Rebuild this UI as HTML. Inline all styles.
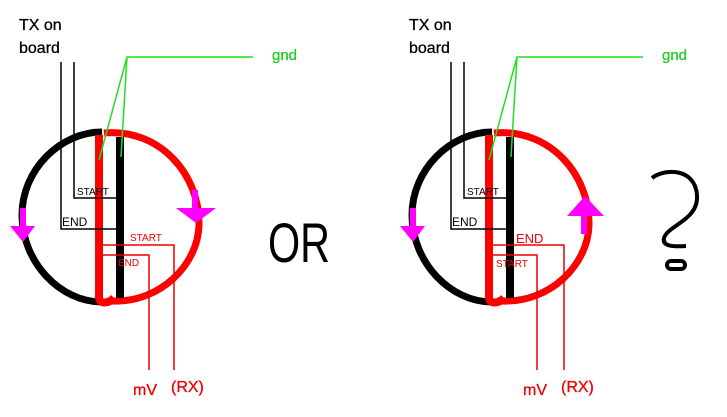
<!DOCTYPE html>
<html><head><meta charset="utf-8"><style>
html,body{margin:0;padding:0;background:#fff;width:727px;height:417px;overflow:hidden}
svg{display:block}
text{font-family:"Liberation Sans",sans-serif}
</style></head><body>
<svg width="727" height="417" viewBox="0 0 727 417" xmlns="http://www.w3.org/2000/svg">
<g id="L">
  <path d="M102,132 C60,132 22,170 22,215 C22,262 60,302 102,302" fill="none" stroke="#000" stroke-width="7"/>
  <path d="M104,133 C160,128 200,175 199,225 C198,265 160,303 112,301" fill="none" stroke="#f00" stroke-width="7"/>
  <line x1="120" y1="137" x2="120" y2="298" stroke="#000" stroke-width="8"/>
  <path d="M99,135 L99,298 C100,304 108,304 114,298" fill="none" stroke="#f00" stroke-width="8"/>
  <path d="M61,62 V229 H118" fill="none" stroke="#000" stroke-width="1.5"/>
  <path d="M74,62 V198 H118" fill="none" stroke="#000" stroke-width="1.5"/>
  <text x="77" y="195" font-size="10" fill="#000">START</text>
  <text x="62" y="226" font-size="12" fill="#000">END</text>
  <path d="M253,57 H127 L99,160 M127,57 L121,157" fill="none" stroke="#2d2" stroke-width="1.5"/>
  <text x="19" y="30" font-size="16" fill="#000" stroke="#000" stroke-width="0.3">TX on</text>
  <text x="19" y="53" font-size="16" fill="#000" stroke="#000" stroke-width="0.3">board</text>
  <text x="272" y="60" font-size="15" fill="#2c2" stroke="#2c2" stroke-width="0.3">gnd</text>
  <text x="133" y="395" font-size="16" fill="#e00" stroke="#e00" stroke-width="0.3">mV</text>
  <text x="171" y="392" font-size="16" fill="#e00" stroke="#e00" stroke-width="0.3">(RX)</text>
  <rect x="20" y="208" width="6" height="18" fill="#f0f"/>
  <polygon points="10,226 35,226 23,242" fill="#f0f"/>
</g>
<path d="M103,245 H174 V370" fill="none" stroke="#e00" stroke-width="1.5"/>
<path d="M103,255 H149 V370" fill="none" stroke="#e00" stroke-width="1.5"/>
<text x="130" y="241" font-size="10" fill="#e00">START</text>
<text x="118" y="266" font-size="10" fill="#e00">END</text>
<rect x="192" y="190" width="6" height="20" fill="#f0f"/>
<polygon points="176,208 216,208 196,223" fill="#f0f"/>
<text x="268" y="262" font-size="56" fill="#000" textLength="62" lengthAdjust="spacingAndGlyphs">OR</text>
<use href="#L" transform="translate(390,0)"/>
<path d="M493,245 H564 V370" fill="none" stroke="#e00" stroke-width="1.5"/>
<path d="M493,255 H537 V370" fill="none" stroke="#e00" stroke-width="1.5"/>
<text x="516" y="243" font-size="13" fill="#e00">END</text>
<text x="496" y="267" font-size="10" fill="#e00">START</text>
<rect x="581" y="214" width="6" height="20" fill="#f0f"/>
<polygon points="567,216 604,216 585,196" fill="#f0f"/>
<path d="M652,178 C665,168 695,168 697,195 C699,220 668,225 664,238 C662,246 672,247 686,246" fill="none" stroke="#000" stroke-width="4"/>
<rect x="667" y="261" width="18" height="8" rx="4" fill="none" stroke="#000" stroke-width="4"/>
</svg>
</body></html>
